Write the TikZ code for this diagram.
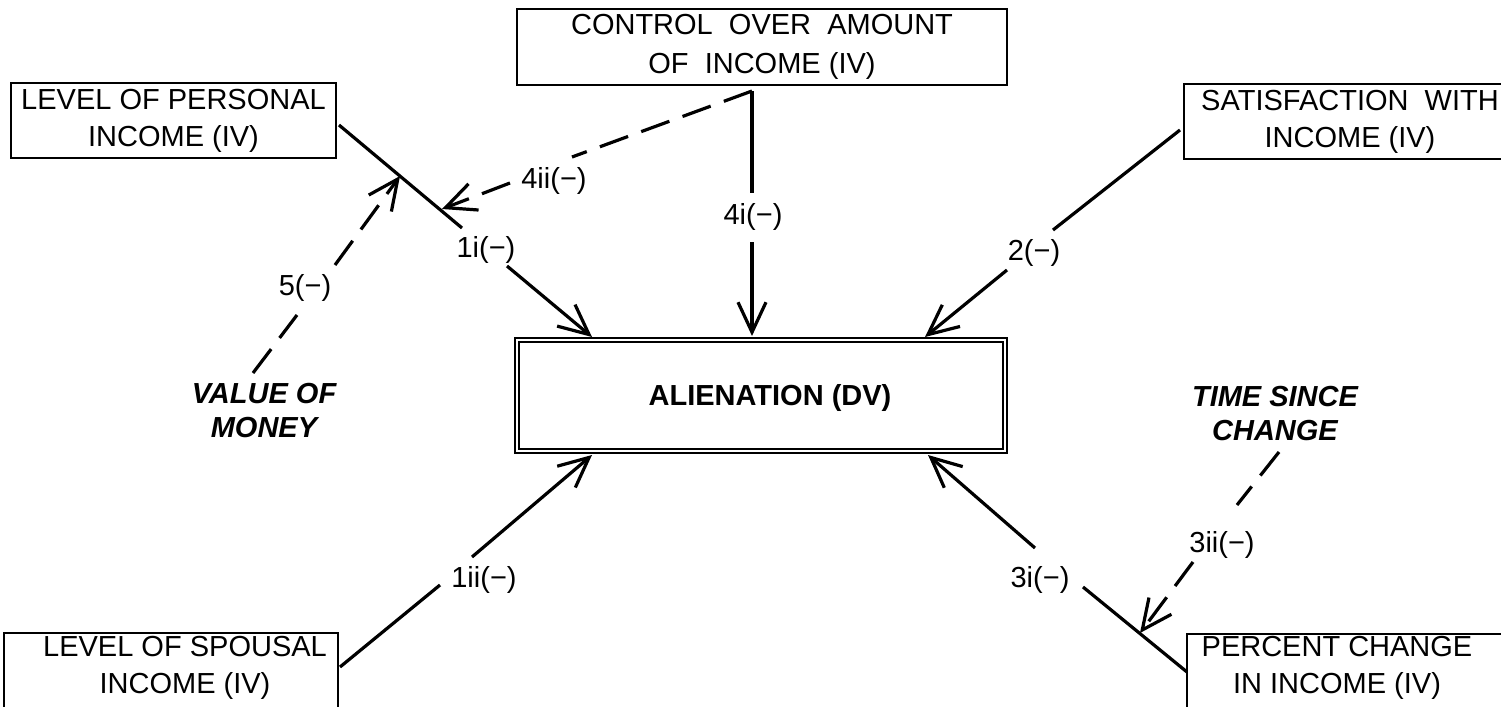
\documentclass[tikz,border=0pt]{standalone}
\usepackage{fontspec}
\setmainfont{Liberation Sans}
\usetikzlibrary{arrows.meta}
\newcommand{\mn}{\symbol{"2212}}
\begin{document}
\begin{tikzpicture}[x=0.5pt,y=-0.5pt,
  boxtext/.style={font=\fontsize{14.5}{18.5}\selectfont, align=center},
  varbox/.style={draw, line width=1pt, inner sep=0pt, boxtext},
  lab/.style={font=\fontsize{14.5}{17}\selectfont, inner sep=1pt},
  moder/.style={font=\fontsize{14.5}{17}\selectfont\bfseries\itshape, align=center},
  link/.style={line width=1.6pt},
  dlink/.style={line width=1.6pt, dash pattern=on 15pt off 7pt},
  tip/.style={-{Straight Barb[length=15pt,width=14pt,line width=1.6pt]}}]
\useasboundingbox (0,0) rectangle (1501,707);

% variable boxes
\node[varbox, minimum width=245pt, minimum height=38pt, font=\fontsize{14.5}{19.5}\selectfont] (ctl) at (762,47)
  {CONTROL\ \ OVER\ \ AMOUNT\\OF\ \ INCOME (IV)};
\node[varbox, minimum width=162.5pt, minimum height=37.5pt] (pers) at (173.5,120.5)
  {LEVEL OF PERSONAL\\INCOME (IV)};
\node[varbox, minimum width=166pt, minimum height=37.5pt] (sat) at (1350,121.5)
  {SATISFACTION\ \ WITH\\INCOME (IV)};
\node[draw, line width=1pt, minimum width=167pt, minimum height=44pt] (spou) at (171,677) {};
\node[boxtext] (spoutext) at (185,668) {LEVEL OF SPOUSAL\\INCOME (IV)};
\node[draw, line width=1pt, minimum width=166pt, minimum height=44pt] (pct) at (1353,678) {};
\node[boxtext] (pcttext) at (1337,668) {PERCENT CHANGE\\IN INCOME (IV)};

% dependent variable with a double frame
\node[draw, line width=1.1pt, minimum width=246pt, minimum height=57.5pt] (alien) at (761,395.5) {};
\draw[line width=0.8pt] ([shift={(5,5)}]alien.north west) rectangle ([shift={(-5,-5)}]alien.south east);
\node[font=\fontsize{14.5}{17}\selectfont\bfseries] (alientext) at (770,398) {ALIENATION (DV)};

% moderators
\node[moder] (money) at (264,411) {VALUE OF\\MONEY};
\node[moder] (time) at (1275,414) {TIME SINCE\\CHANGE};

% junction and break points of the links
\coordinate (cT) at (752,91);
\coordinate (p1a) at (339,125);
\coordinate (p1b) at (462,228);
\coordinate (p1c) at (507,266);
\coordinate (a1i) at (592,337);
\coordinate (m5) at (400,176);
\coordinate (m4) at (442,209);
\coordinate (c4a) at (752,193);
\coordinate (c4b) at (752,242);
\coordinate (a4i) at (752,336);
\coordinate (c4c) at (572,157);
\coordinate (c4d) at (510,183);
\coordinate (v5a) at (253,373);
\coordinate (v5b) at (297,315);
\coordinate (v5c) at (335,265);
\coordinate (s2a) at (1180,130);
\coordinate (s2b) at (1053,230);
\coordinate (s2c) at (1007,270);
\coordinate (a2) at (925,337);
\coordinate (q1a) at (340,667);
\coordinate (q1b) at (440,585);
\coordinate (q1c) at (472,557);
\coordinate (a1ii) at (592,455);
\coordinate (r3a) at (1187,672);
\coordinate (r3b) at (1083,587);
\coordinate (r3c) at (1035,548);
\coordinate (a3i) at (928,455);
\coordinate (t3a) at (1279,452);
\coordinate (t3b) at (1237,505);
\coordinate (t3c) at (1193,562);
\coordinate (m3) at (1140,633);

% labels
\node[lab] (l1i) at (486,250) {1i(\mn)};
\node[lab] (l4i) at (753,217) {4i(\mn)};
\node[lab] (l4ii) at (554,181) {4ii(\mn)};
\node[lab] (l5) at (305,288) {5(\mn)};
\node[lab] (l2) at (1034,253) {2(\mn)};
\node[lab] (l1ii) at (484,580) {1ii(\mn)};
\node[lab] (l3i) at (1040,580) {3i(\mn)};
\node[lab] (l3ii) at (1222,545) {3ii(\mn)};

% 1i: personal income -> alienation
\draw[link] (p1a) -- (p1b);
\draw[link, tip] (p1c) -- (a1i);
% 4i: control -> alienation
\draw[link] (cT) -- (c4a);
\draw[link, tip] (c4b) -- (a4i);
% 4ii: control -> personal income link
\draw[dlink] (cT) -- (c4c);
\draw[dlink, tip] (c4d) -- (m4);
% 5: value of money -> personal income link
\draw[dlink] (v5a) -- (v5b);
\draw[dlink, tip] (v5c) -- (m5);
% 2: satisfaction -> alienation
\draw[link] (s2a) -- (s2b);
\draw[link, tip] (s2c) -- (a2);
% 1ii: spousal income -> alienation
\draw[link] (q1a) -- (q1b);
\draw[link, tip] (q1c) -- (a1ii);
% 3i: percent change -> alienation
\draw[link] (r3a) -- (r3b);
\draw[link, tip] (r3c) -- (a3i);
% 3ii: time since change -> percent change link
\draw[dlink] (t3a) -- (t3b);
\draw[dlink, tip] (t3c) -- (m3);
\end{tikzpicture}
\end{document}
